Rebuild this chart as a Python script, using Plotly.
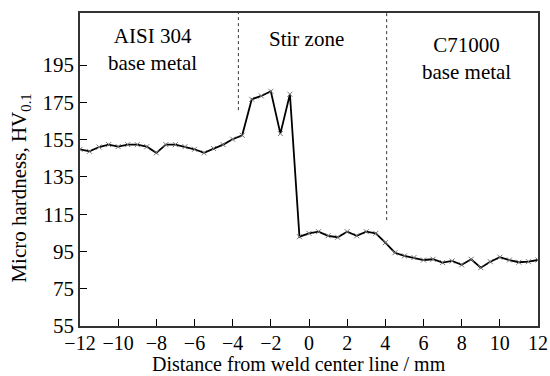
import plotly.graph_objects as go

distance = [-12, -11.5, -11, -10.5, -10, -9.5, -9, -8.5, -8, -7.5, -7, -6.5, -6, -5.5, -5, -4.5,
            -4, -3.5, -3, -2.5, -2, -1.5, -1, -0.5, 0, 0.5, 1, 1.5, 2, 2.5, 3, 3.5,
            4, 4.5, 5, 5.5, 6, 6.5, 7, 7.5, 8, 8.5, 9, 9.5, 10, 10.5, 11, 11.5, 12]
hardness = [149.8, 148.7, 151.0, 152.3, 151.2, 152.3, 152.3, 151.2, 147.9, 152.3, 152.3, 151.2,
            149.8, 147.9, 150.2, 152.3, 155.2, 157.3, 176.6, 178.4, 180.9, 158.2, 179.3, 102.9,
            104.7, 105.6, 103.4, 102.6, 105.6, 103.4, 105.6, 104.7, 99.7, 94.3, 92.6, 91.7,
            90.4, 90.8, 89.0, 89.9, 87.8, 90.8, 86.3, 89.5, 91.9, 90.4, 89.2, 89.5, 90.4]

boundary_x = [-3.7, 4.07]
boundary_bottom = [170.8, 111.8]
boundary_top = 222.9

zone_labels = ["AISI 304<br>base metal", "Stir zone", "C71000<br>base metal"]
zone_x = [-8.2, -0.15, 8.23]
zone_y = [203.5, 208.8, 198.6]

x_ticks = [-12, -10, -8, -6, -4, -2, 0, 2, 4, 6, 8, 10, 12]
y_ticks = [55, 75, 95, 115, 135, 155, 175, 195]

FONT = "Liberation Serif"

fig = go.Figure()
fig.add_trace(go.Scatter(
    x=distance, y=hardness, mode="lines+markers",
    line=dict(color="black", width=1.8),
    marker=dict(symbol="x-thin", size=5, color="#888888", line=dict(width=1, color="#777777")),
    showlegend=False,
))

for bx, bb in zip(boundary_x, boundary_bottom):
    fig.add_shape(type="line", x0=bx, x1=bx, y0=bb, y1=boundary_top, xref="x", yref="y",
                  line=dict(color="#333333", width=1, dash="dot"))

for t, x, y in zip(zone_labels, zone_x, zone_y):
    fig.add_annotation(x=x, y=y, text=t, showarrow=False, xref="x", yref="y",
                       font=dict(family=FONT, size=21, color="black"), align="center")

fig.add_annotation(x=-0.131, y=0.439, xref="paper", yref="paper", text="Micro hardness, HV<sub>0.1</sub>",
                   textangle=-90, showarrow=False, xanchor="center", yanchor="middle",
                   font=dict(family=FONT, size=21, color="black"))
fig.add_annotation(x=0.479, y=-0.122, xref="paper", yref="paper", text="Distance from weld center line / mm",
                   showarrow=False, font=dict(family=FONT, size=20, color="black"),
                   xanchor="center", yanchor="middle")

fig.update_xaxes(range=[-12, 12], tickvals=x_ticks, ticks="inside", ticklen=7, tickwidth=1,
                 tickcolor="black", showline=True, linecolor="#333333", linewidth=1.5, mirror=True,
                 showgrid=False, zeroline=False, tickfont=dict(family=FONT, size=20, color="black"),
                 automargin=False, ticklabeloverflow="allow", ticklabelstandoff=-2)
fig.update_yaxes(range=[55, 222.9], tickvals=y_ticks, ticks="inside", ticklen=7, tickwidth=1,
                 tickcolor="black", showline=True, linecolor="#333333", linewidth=1.5, mirror=True,
                 showgrid=False, zeroline=False, tickfont=dict(family=FONT, size=21, color="black"),
                 automargin=False)

fig.update_layout(width=550, height=376, margin=dict(l=80, r=12, t=13, b=50),
                  plot_bgcolor="white", paper_bgcolor="white")

fig.write_html("out.html")
